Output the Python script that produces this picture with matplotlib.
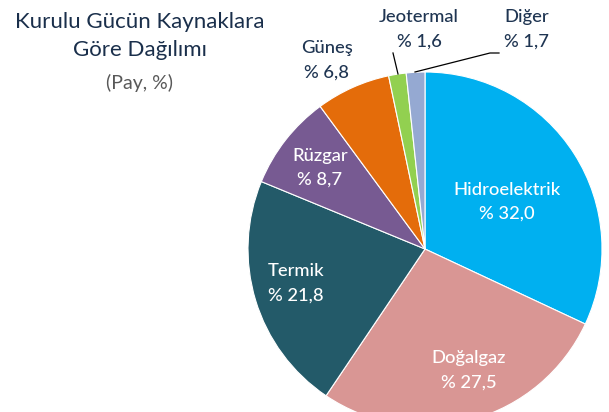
import matplotlib
matplotlib.use("Agg")
import matplotlib.pyplot as plt
import numpy as np

categories = ["Hidroelektrik", "Doğalgaz", "Termik", "Rüzgar", "Güneş", "Jeotermal", "Diğer"]
values = [32.0, 27.5, 21.8, 8.7, 6.8, 1.6, 1.7]
value_labels = ["% 32,0", "% 27,5", "% 21,8", "% 8,7", "% 6,8", "% 1,6", "% 1,7"]
colors = ["#00B0F0", "#D99694", "#235A69", "#775A92", "#E46C0A", "#92D050", "#95A9D2"]

plt.rcParams['font.family'] = ['Lato', 'DejaVu Sans']

W, H = 609, 412
fig = plt.figure(figsize=(W / 100, H / 100), dpi=100)

cx, cy, r = 425, 249, 177
ax = fig.add_axes([(cx - r) / W, (H - cy - r) / H, 2 * r / W, 2 * r / H])
wedges, _ = ax.pie(values, colors=colors, startangle=90, counterclock=False,
                   radius=1, wedgeprops=dict(edgecolor="white", linewidth=0.8))
ax.set_xlim(-1, 1)
ax.set_ylim(-1, 1)
ax.set_aspect("equal")
ax.axis("off")

def px(x, y):
    # pixel coords (from top-left) -> data coords of pie axes
    return ((x - cx) / r, (cy - y) / r)

dark = "#1F3552"
label_pos = {
    "Hidroelektrik": (507, 190, 214, "white"),
    "Doğalgaz": (469, 358, 383, "white"),
    "Termik": (296, 271, 296, "white"),
    "Rüzgar": (320, 156, 180, "white"),
    "Güneş": (327, 48, 73, dark),
    "Jeotermal": (419, 17, 42, dark),
    "Diğer": (527, 17, 42, dark),
}
for cat, vl in zip(categories, value_labels):
    x, y1, y2, col = label_pos[cat]
    ax.text(*px(x, y1), cat, ha="center", va="center", fontsize=13.2, color=col,
            fontweight="medium", clip_on=False)
    ax.text(*px(x, y2), vl, ha="center", va="center", fontsize=13.2, color=col,
            fontweight="medium", clip_on=False)

# leader lines
ax.plot(*zip(px(393, 53), px(398, 74)), color="black", lw=0.9, clip_on=False)
ax.plot(*zip(px(415, 72), px(490, 53), px(499, 53)), color="black", lw=0.9, clip_on=False)

# title
fig.text(140 / W, 1 - 22 / H, "Kurulu Gücün Kaynaklara", ha="center", va="center",
         fontsize=16, color="#1A2F4B")
fig.text(140 / W, 1 - 50 / H, "Göre Dağılımı", ha="center", va="center",
         fontsize=16, color="#1A2F4B")
fig.text(140 / W, 1 - 83 / H, "(Pay, %)", ha="center", va="center",
         fontsize=14, color="#595959")

fig.savefig("out.png", dpi=100)
